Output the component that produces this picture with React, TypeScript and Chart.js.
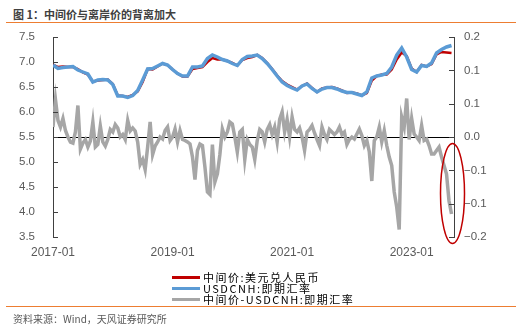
import React, { useEffect, useRef } from "react";
import { Chart, registerables } from "chart.js";

Chart.register(...registerables);

// ---- axes / labels ----
const xTickMonths = [0, 24, 48, 72]; // months since 2017-01
const xTickLabels = ["2017-01", "2019-01", "2021-01", "2023-01"];
const leftTickValues = [3.5, 4.0, 4.5, 5.0, 5.5, 6.0, 6.5, 7.0, 7.5];
const leftTickLabels = ["3.5", "4.0", "4.5", "5.0", "5.5", "6.0", "6.5", "7.0", "7.5"];
const rightTickValues = [-0.2, -0.1333, -0.0667, 0, 0.0667, 0.1333, 0.2];
const rightTickLabels = ["\u22120.2", "\u22120.1", "\u22120.1", "0.0", "0.1", "0.1", "0.2"];

const titleText = "图 1：中间价与离岸价的背离加大";
const sourceText = "资料来源：Wind，天风证券研究所";
const seriesNames = ["中间价:美元兑人民币", "USDCNH:即期汇率", "中间价-USDCNH:即期汇率"];
const seriesColors = ["#C00000", "#5B9BD5", "#A6A6A6"];

// ---- data: monthly, 2017-01 .. 2023-09 ----
const fixingMonthly = [
  6.95, 6.90, 6.91, 6.90, 6.90, 6.86, 6.79, 6.75, 6.61, 6.63, 6.64, 6.65,
  6.56, 6.33, 6.32, 6.30, 6.34, 6.41, 6.60, 6.86, 6.85, 6.91, 6.97, 6.94,
  6.85, 6.77, 6.71, 6.71, 6.86, 6.88, 6.90, 7.00, 7.08, 7.05, 7.05, 7.02,
  6.98, 6.93, 7.04, 7.08, 7.10, 7.14, 7.08, 6.98, 6.86, 6.73, 6.62, 6.55,
  6.50, 6.45, 6.52, 6.57, 6.48, 6.40, 6.47, 6.49, 6.50, 6.47, 6.43, 6.38,
  6.39, 6.37, 6.33, 6.38, 6.63, 6.72, 6.75, 6.75, 6.85, 7.05, 7.19, 7.12,
  6.87, 6.80, 6.94, 6.91, 6.96, 7.15, 7.20, 7.19, 7.18,
];
const cnhMonthly = [
  6.94, 6.87, 6.89, 6.90, 6.91, 6.84, 6.80, 6.76, 6.60, 6.64, 6.65, 6.64,
  6.55, 6.32, 6.32, 6.29, 6.33, 6.43, 6.64, 6.86, 6.87, 6.92, 6.97, 6.94,
  6.85, 6.77, 6.72, 6.72, 6.90, 6.90, 6.92, 7.07, 7.14, 7.10, 7.05, 7.02,
  6.97, 6.93, 7.05, 7.11, 7.12, 7.14, 7.07, 6.97, 6.85, 6.72, 6.60, 6.53,
  6.48, 6.44, 6.52, 6.56, 6.47, 6.40, 6.46, 6.49, 6.49, 6.46, 6.42, 6.39,
  6.39, 6.36, 6.33, 6.40, 6.68, 6.72, 6.74, 6.77, 6.90, 7.14, 7.28, 7.10,
  6.85, 6.80, 6.93, 6.91, 6.98, 7.18, 7.25, 7.30, 7.33,
];
// ---- spread: half-monthly, 2017-01 .. 2023-09 ----
const spreadHalfMonthly = [
  0.02, 0.075, 0.033, 0.02, 0.037, 0.013, 0.0, -0.01, -0.012, 0.01,
  0.063, -0.024, -0.012, -0.005, -0.02, -0.008, 0.03, -0.02, -0.015, 0.022,
  -0.01, -0.018, -0.005, 0.015, 0.01, 0.025, 0.018, 0.0, 0.005, -0.005,
  0.033, 0.012, 0.018, 0.012, -0.01, -0.055, -0.045, -0.065, -0.02, 0.03,
  -0.035, -0.018, -0.01, 0.0, -0.004, 0.013, 0.02, -0.007, 0.0, 0.016,
  -0.01, 0.013, -0.005, -0.007, -0.01, -0.014, -0.04, -0.085, -0.027, -0.014,
  -0.017, -0.06, -0.11, -0.115, -0.015, -0.09, -0.074, -0.035, 0.016, 0.0,
  0.01, 0.03, 0.026, 0.0, -0.03, 0.01, 0.015, -0.045, -0.005, -0.015,
  -0.02, -0.045, -0.007, 0.015, 0.01, -0.01, 0.015, 0.025, 0.005, 0.02,
  -0.01, 0.035, 0.05, 0.01, 0.035, 0.0, 0.04, 0.015, 0.01, 0.018,
  0.0, -0.027, 0.01, 0.015, 0.023, 0.008, -0.005, -0.017, 0.02, 0.005,
  -0.005, 0.015, 0.01, 0.005, 0.01, 0.02, 0.005, 0.01, -0.015, -0.005,
  0.0, -0.004, 0.006, 0.016, 0.003, -0.017, -0.007, -0.03, -0.088, -0.007,
  0.0, 0.02, -0.01, 0.013, -0.017, -0.04, -0.057, -0.11, -0.14, -0.185,
  0.04, 0.02, 0.077, -0.005, 0.037, 0.006, 0.0, -0.007, 0.023, -0.007,
  -0.004, -0.017, -0.034, -0.034, -0.027, -0.02, -0.04, -0.057, -0.074, -0.128,
  -0.154,
];

const AXIS_COLOR = "#404040";
const LABEL_COLOR = "#595959";

const decorPlugin = {
  id: "decor",
  beforeDatasetsDraw(chart: any) {
    const { ctx, chartArea, scales } = chart;
    const y0 = Math.round(scales.y1.getPixelForValue(0)) + 0.5;
    ctx.save();
    ctx.strokeStyle = "#000000";
    ctx.lineWidth = 1;
    ctx.beginPath();
    ctx.moveTo(chartArea.left, y0);
    ctx.lineTo(chartArea.right, y0);
    ctx.stroke();
    ctx.restore();
  },
  afterDraw(chart: any) {
    const { ctx, chartArea, scales } = chart;
    ctx.save();
    ctx.strokeStyle = AXIS_COLOR;
    ctx.lineWidth = 1;
    ctx.beginPath();
    leftTickValues.forEach((v) => {
      const y = Math.round(scales.y.getPixelForValue(v)) + 0.5;
      ctx.moveTo(chartArea.left, y);
      ctx.lineTo(chartArea.left + 5, y);
    });
    rightTickValues.forEach((v) => {
      const y = Math.round(scales.y1.getPixelForValue(v)) + 0.5;
      ctx.moveTo(chartArea.right - 5, y);
      ctx.lineTo(chartArea.right, y);
    });
    ctx.stroke();
    // highlight ellipse around the latest spread
    const cx = scales.x.getPixelForValue(80.2);
    const cy = scales.y1.getPixelForValue(-0.113);
    ctx.strokeStyle = "#C00000";
    ctx.lineWidth = 1.5;
    ctx.beginPath();
    ctx.ellipse(cx, cy, 12, 50, 0, 0, Math.PI * 2);
    ctx.stroke();
    ctx.restore();
  },
};

export default function App() {
  const canvasRef = useRef<HTMLCanvasElement>(null);

  useEffect(() => {
    if (!canvasRef.current) return;
    const chart = new Chart(canvasRef.current, {
      type: "line",
      data: {
        datasets: [
          {
            label: seriesNames[0],
            data: fixingMonthly.map((v, i) => ({ x: i, y: v })),
            yAxisID: "y",
            borderColor: seriesColors[0],
            borderWidth: 2.5,
            pointRadius: 0,
            tension: 0,
            order: 1,
          },
          {
            label: seriesNames[1],
            data: cnhMonthly.map((v, i) => ({ x: i, y: v })),
            yAxisID: "y",
            borderColor: seriesColors[1],
            borderWidth: 3.5,
            pointRadius: 0,
            tension: 0,
            order: 0,
          },
          {
            label: seriesNames[2],
            data: spreadHalfMonthly.map((v, i) => ({ x: i / 2, y: v })),
            yAxisID: "y1",
            borderColor: seriesColors[2],
            borderWidth: 3.5,
            pointRadius: 0,
            tension: 0,
            order: 2,
          },
        ],
      },
      options: {
        animation: false,
        responsive: false,
        layout: { padding: { top: 37, left: 0, right: 0, bottom: 0 } },
        plugins: { legend: { display: false }, tooltip: { enabled: false } },
        scales: {
          x: {
            type: "linear",
            min: 0,
            max: 80.5,
            grid: { display: false, drawTicks: false },
            border: { display: false },
            afterBuildTicks: (axis: any) => {
              axis.ticks = xTickMonths.map((v) => ({ value: v }));
            },
            afterFit: (s: any) => {
              s.height = 94;
            },
            ticks: {
              autoSkip: false,
              maxRotation: 0,
              padding: 8,
              color: LABEL_COLOR,
              font: { family: "'Liberation Sans', Arial, sans-serif", size: 12 },
              callback: (_v: any, i: number) => xTickLabels[i] ?? "",
            },
          },
          y: {
            type: "linear",
            position: "left",
            min: 3.5,
            max: 7.5,
            grid: { display: false, drawTicks: false },
            border: { display: true, color: AXIS_COLOR, width: 1 },
            afterBuildTicks: (axis: any) => {
              axis.ticks = leftTickValues.map((v) => ({ value: v }));
            },
            afterFit: (s: any) => {
              s.width = 53;
            },
            ticks: {
              padding: 18,
              color: LABEL_COLOR,
              font: { family: "'Liberation Sans', Arial, sans-serif", size: 11.5 },
              callback: (_v: any, i: number) => leftTickLabels[i] ?? "",
            },
          },
          y1: {
            type: "linear",
            position: "right",
            min: -0.2,
            max: 0.2,
            grid: { display: false, drawTicks: false, drawOnChartArea: false },
            border: { display: true, color: AXIS_COLOR, width: 1 },
            afterBuildTicks: (axis: any) => {
              axis.ticks = rightTickValues.map((v) => ({ value: v }));
            },
            afterFit: (s: any) => {
              s.width = 68;
            },
            ticks: {
              padding: 10,
              color: LABEL_COLOR,
              font: { family: "'Liberation Sans', Arial, sans-serif", size: 11.5 },
              callback: (_v: any, i: number) => rightTickLabels[i] ?? "",
            },
          },
        },
      },
      plugins: [decorPlugin],
    } as any);
    return () => chart.destroy();
  }, []);

  const cjk = "'Noto Sans CJK SC', 'Noto Sans', sans-serif";
  const legendTops = [271, 282, 293];

  return (
    <div
      style={{
        position: "absolute",
        left: 0,
        top: 0,
        width: 522,
        height: 331,
        background: "#ffffff",
        fontFamily: cjk,
        overflow: "hidden",
      }}
    >
      <div
        style={{
          position: "absolute",
          left: 13,
          top: 6,
          fontSize: 11,
          lineHeight: "16px",
          fontWeight: "bold",
          color: "#404040",
          whiteSpace: "nowrap",
        }}
      >
        {titleText}
      </div>
      <div style={{ position: "absolute", left: 6, top: 22, width: 510, height: 1, background: "#ED7D31" }} />
      <canvas ref={canvasRef} width={522} height={331} style={{ position: "absolute", left: 0, top: 0 }} />
      {seriesNames.map((name, i) => (
        <React.Fragment key={name}>
          <div
            style={{
              position: "absolute",
              left: 172,
              top: legendTops[i] + 5,
              width: 28,
              height: 3,
              background: seriesColors[i],
            }}
          />
          <div
            style={{
              position: "absolute",
              left: 203,
              top: legendTops[i],
              fontSize: 11,
              lineHeight: "12px",
              letterSpacing: "1.5px",
              color: "#000000",
              whiteSpace: "nowrap",
            }}
          >
            {name}
          </div>
        </React.Fragment>
      ))}
      <div style={{ position: "absolute", left: 6, top: 306, width: 510, height: 1, background: "#ED7D31" }} />
      <div
        style={{
          position: "absolute",
          left: 13,
          top: 312,
          fontSize: 10,
          lineHeight: "14px",
          color: "#595959",
          whiteSpace: "nowrap",
        }}
      >
        {sourceText}
      </div>
    </div>
  );
}
